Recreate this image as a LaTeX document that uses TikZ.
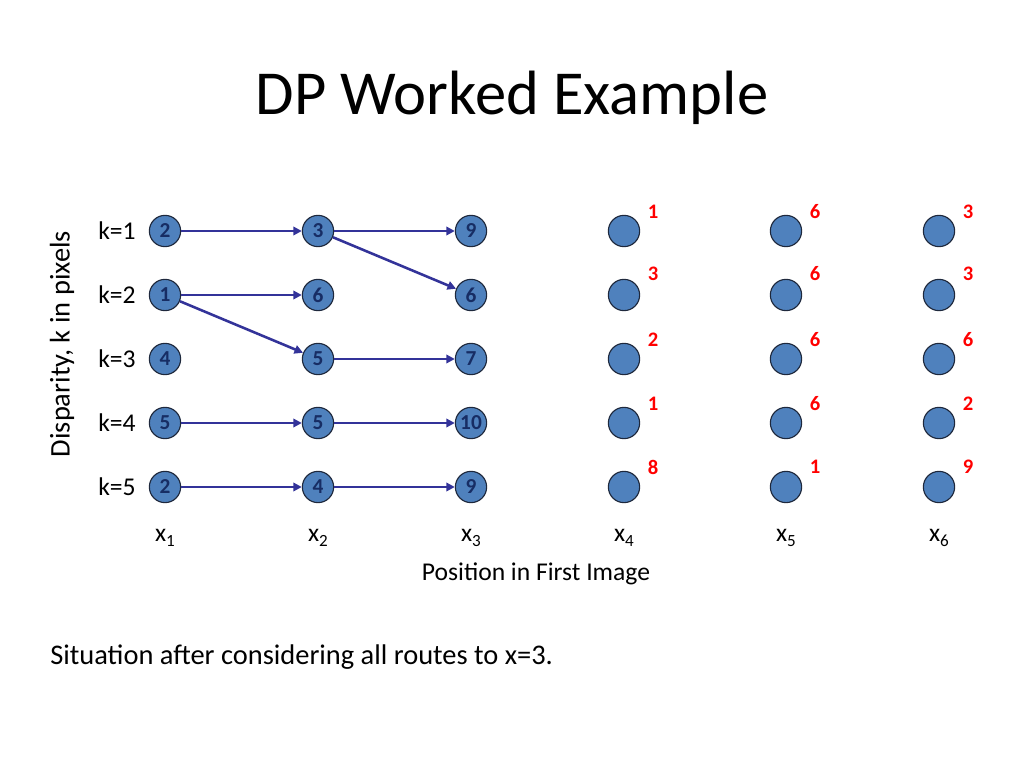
\documentclass[tikz,border=0pt]{standalone}
\usepackage{fontspec}
\setmainfont{Carlito}
\usetikzlibrary{arrows.meta}
\definecolor{nodefill}{RGB}{79,129,189}
\definecolor{nodeline}{RGB}{30,40,60}
\definecolor{numcol}{RGB}{23,45,100}
\definecolor{arrcol}{RGB}{51,51,153}
\definecolor{redcol}{RGB}{255,0,0}
\newcommand{\lowsub}[1]{\raisebox{-0.35ex}{\fontsize{12}{12}\selectfont #1}}
\begin{document}
\begin{tikzpicture}[x=0.703125pt,y=-0.703125pt,
  dot/.style={circle,minimum size=22pt,inner sep=0pt,fill=nodefill,draw=nodeline,line width=0.8pt,
    text=numcol,font=\fontsize{15}{16}\selectfont\bfseries},
  cost/.style={text=redcol,font=\fontsize{14.5}{16}\selectfont\bfseries,inner sep=0pt},
  lab/.style={font=\fontsize{18}{21.6}\selectfont,inner sep=0pt},
  link/.style={draw=arrcol,line width=1.8pt,-{Triangle[length=6pt,width=6pt]}}]
\useasboundingbox (0,0) rectangle (1024,768);
\node[font=\fontsize{44}{52}\selectfont] (title) at (512,98) {DP Worked Example};
% column x and row y
\def\cA{165}\def\cB{318}\def\cC{471}\def\cD{624}\def\cE{786}\def\cF{939}
\def\rA{231}\def\rB{295}\def\rC{359}\def\rD{423}\def\rE{487}
% row labels
\node[lab] (k1) at (117,\rA) {k=1};
\node[lab] (k2) at (117,\rB) {k=2};
\node[lab] (k3) at (117,\rC) {k=3};
\node[lab] (k4) at (117,\rD) {k=4};
\node[lab] (k5) at (117,\rE) {k=5};
\node[lab,rotate=90,font=\fontsize{20}{24}\selectfont] (disp) at (62,344) {Disparity, k in pixels};
% column 1
\node[dot] (a1) at (\cA,\rA) {2};
\node[dot] (a2) at (\cA,\rB) {1};
\node[dot] (a3) at (\cA,\rC) {4};
\node[dot] (a4) at (\cA,\rD) {5};
\node[dot] (a5) at (\cA,\rE) {2};
% column 2
\node[dot] (b1) at (\cB,\rA) {3};
\node[dot] (b2) at (\cB,\rB) {6};
\node[dot] (b3) at (\cB,\rC) {5};
\node[dot] (b4) at (\cB,\rD) {5};
\node[dot] (b5) at (\cB,\rE) {4};
% column 3
\node[dot] (c1) at (\cC,\rA) {9};
\node[dot] (c2) at (\cC,\rB) {6};
\node[dot] (c3) at (\cC,\rC) {7};
\node[dot] (c4) at (\cC,\rD) {10};
\node[dot] (c5) at (\cC,\rE) {9};
% columns 4-6
\foreach \col/\cx in {d/\cD,e/\cE,f/\cF}{
  \node[dot] (\col1) at (\cx,\rA) {};
  \node[dot] (\col2) at (\cx,\rB) {};
  \node[dot] (\col3) at (\cx,\rC) {};
  \node[dot] (\col4) at (\cx,\rD) {};
  \node[dot] (\col5) at (\cx,\rE) {};
}
% red costs
\foreach \col/\va/\vb/\vc/\vd/\ve in {d/1/3/2/1/8,e/6/6/6/6/1,f/3/3/6/2/9}{
  \node[cost] (\col1c) at ([shift={(29,-19)}]\col1.center) {\va};
  \node[cost] (\col2c) at ([shift={(29,-21)}]\col2.center) {\vb};
  \node[cost] (\col3c) at ([shift={(29,-19)}]\col3.center) {\vc};
  \node[cost] (\col4c) at ([shift={(29,-19)}]\col4.center) {\vd};
  \node[cost] (\col5c) at ([shift={(29,-20)}]\col5.center) {\ve};
}
% arrows
\draw[link] (a1) -- (b1);
\draw[link] (b1) -- (c1);
\draw[link] (b1) -- (c2);
\draw[link] (a2) -- (b2);
\draw[link] (a2) -- (b3);
\draw[link] (b3) -- (c3);
\draw[link] (a4) -- (b4);
\draw[link] (b4) -- (c4);
\draw[link] (a5) -- (b5);
\draw[link] (b5) -- (c5);
% x labels
\node[lab] (x1) at (\cA,538) {x\lowsub{1}};
\node[lab] (x2) at (\cB,538) {x\lowsub{2}};
\node[lab] (x3) at (\cC,538) {x\lowsub{3}};
\node[lab] (x4) at (\cD,538) {x\lowsub{4}};
\node[lab] (x5) at (\cE,538) {x\lowsub{5}};
\node[lab] (x6) at (\cF,538) {x\lowsub{6}};
\node[lab] (pos) at (536,574) {Position in First Image};
\node[font=\fontsize{20}{24}\selectfont,inner sep=0pt,anchor=west] (sit) at (50,657) {Situation after considering all routes to x=3.};
\end{tikzpicture}
\end{document}
